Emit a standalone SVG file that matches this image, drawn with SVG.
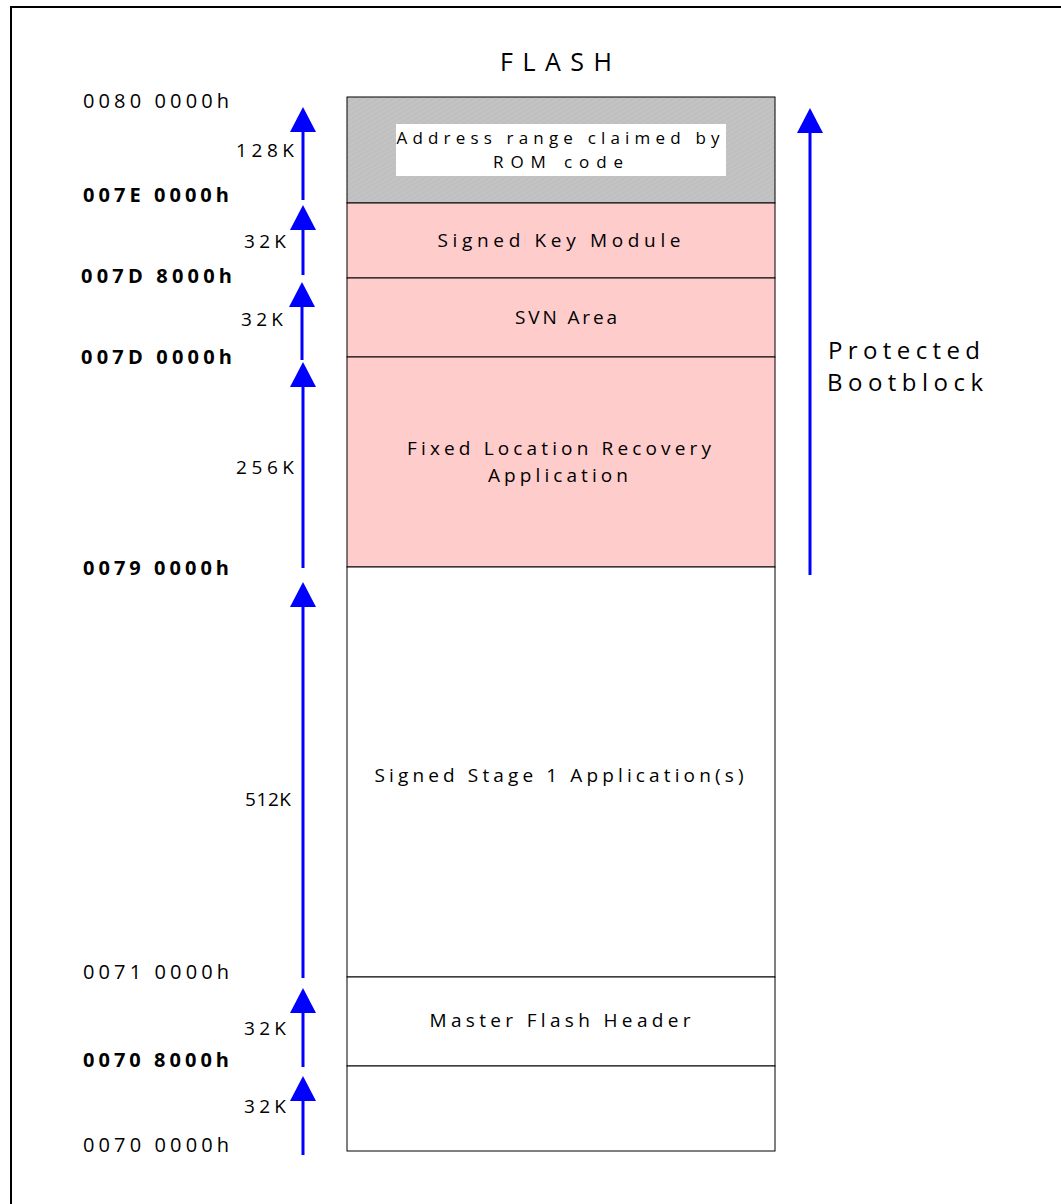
<svg xmlns="http://www.w3.org/2000/svg" width="1061" height="1204" viewBox="0 0 1061 1204">
<style>
.t{font-family:"Open Sans","Liberation Sans",sans-serif;fill:#000}
.addr{font-size:20px}
.b{font-weight:bold}
.sz{font-size:19px}
.lbl{font-size:19px;text-anchor:middle}
.rom{font-size:17px}
.seg{stroke:#000;stroke-width:1}
.arr{stroke:#0000FF;stroke-width:3;fill:none}
.head{fill:#0000FF}
</style>
<defs>
<pattern id="hatch" width="4" height="4" patternUnits="userSpaceOnUse" patternTransform="rotate(-30)">
<rect width="4" height="4" fill="#C0C0C0"/>
<line x1="0" y1="0" x2="4" y2="0" stroke="#CACACA" stroke-width="1.2"/>
</pattern>
</defs>
<rect x="11" y="7" width="1100" height="1250" fill="#fff" stroke="#000" stroke-width="2"/>
<text class="t" x="556" y="71" font-size="25" text-anchor="middle" textLength="112" lengthAdjust="spacing">FLASH</text>
<g id="rom">
<rect x="347" y="97" width="428" height="106" fill="url(#hatch)" class="seg"/>
<rect x="396" y="124" width="330" height="52" fill="#fff"/>
<text class="t lbl rom" x="558" y="144" textLength="323" lengthAdjust="spacing">Address range claimed by</text>
<text class="t lbl rom" x="558" y="168" textLength="130" lengthAdjust="spacing">ROM code</text>
</g>
<g id="skm">
<rect x="347" y="203" width="428" height="75" fill="#FFCCCC" class="seg"/>
<text class="t lbl" x="559" y="247" textLength="243" lengthAdjust="spacing">Signed Key Module</text>
</g>
<g id="svn">
<rect x="347" y="278" width="428" height="79" fill="#FFCCCC" class="seg"/>
<text class="t lbl" x="566" y="324" textLength="102" lengthAdjust="spacing">SVN Area</text>
</g>
<g id="recovery">
<rect x="347" y="357" width="428" height="210" fill="#FFCCCC" class="seg"/>
<text class="t lbl" x="559" y="455" textLength="304" lengthAdjust="spacing">Fixed Location Recovery</text>
<text class="t lbl" x="558" y="482" textLength="140" lengthAdjust="spacing">Application</text>
</g>
<g id="stage1">
<rect x="347" y="567" width="428" height="410" fill="#fff" class="seg"/>
<text class="t lbl" x="559" y="782" textLength="369" lengthAdjust="spacing">Signed Stage 1 Application(s)</text>
</g>
<g id="mfh">
<rect x="347" y="977" width="428" height="89" fill="#fff" class="seg"/>
<text class="t lbl" x="560" y="1027" textLength="261" lengthAdjust="spacing">Master Flash Header</text>
</g>
<g id="bottom">
<rect x="347" y="1066" width="428" height="85" fill="#fff" class="seg"/>
</g>
<g id="addresses">
<text class="t addr" x="83" y="108" textLength="146" lengthAdjust="spacing">0080 0000h</text>
<text class="t addr b" x="83" y="202" textLength="146" lengthAdjust="spacing">007E 0000h</text>
<text class="t addr b" x="81" y="283" textLength="151" lengthAdjust="spacing">007D 8000h</text>
<text class="t addr b" x="81" y="364" textLength="151" lengthAdjust="spacing">007D 0000h</text>
<text class="t addr b" x="83" y="575" textLength="146" lengthAdjust="spacing">0079 0000h</text>
<text class="t addr" x="83" y="979" textLength="146" lengthAdjust="spacing">0071 0000h</text>
<text class="t addr b" x="83" y="1067" textLength="146" lengthAdjust="spacing">0070 8000h</text>
<text class="t addr" x="83" y="1152" textLength="146" lengthAdjust="spacing">0070 0000h</text>
</g>
<g id="sizes">
<text class="t sz" x="236" y="157" textLength="58" lengthAdjust="spacing">128K</text>
<text class="t sz" x="244" y="248" textLength="42" lengthAdjust="spacing">32K</text>
<text class="t sz" x="241" y="326" textLength="42" lengthAdjust="spacing">32K</text>
<text class="t sz" x="236" y="474" textLength="58" lengthAdjust="spacing">256K</text>
<text class="t sz" x="245" y="806" textLength="46" lengthAdjust="spacing">512K</text>
<text class="t sz" x="244" y="1035" textLength="42" lengthAdjust="spacing">32K</text>
<text class="t sz" x="244" y="1113" textLength="42" lengthAdjust="spacing">32K</text>
</g>
<g id="protected">
<text class="t" x="828" y="359" font-size="24" textLength="152" lengthAdjust="spacing">Protected</text>
<text class="t" x="827" y="391" font-size="24" textLength="156" lengthAdjust="spacing">Bootblock</text>
</g>
<g id="connectors">
<line class="arr" x1="303" y1="200" x2="303" y2="130"/>
<polygon class="head" points="303,107 290,132 316,132"/>
<line class="arr" x1="303" y1="275" x2="303" y2="228"/>
<polygon class="head" points="303,205 290,230 316,230"/>
<line class="arr" x1="302" y1="360" x2="302" y2="305"/>
<polygon class="head" points="302,282 289,307 315,307"/>
<line class="arr" x1="303" y1="568" x2="303" y2="385"/>
<polygon class="head" points="303,362 290,387 316,387"/>
<line class="arr" x1="303" y1="978" x2="303" y2="605"/>
<polygon class="head" points="303,582 290,607 316,607"/>
<line class="arr" x1="303" y1="1067" x2="303" y2="1011"/>
<polygon class="head" points="303,988 290,1013 316,1013"/>
<line class="arr" x1="303" y1="1155" x2="303" y2="1099"/>
<polygon class="head" points="303,1076 290,1101 316,1101"/>
<line class="arr" x1="810" y1="575" x2="810" y2="131"/>
<polygon class="head" points="810,108 797,133 823,133"/>
</g>
</svg>
